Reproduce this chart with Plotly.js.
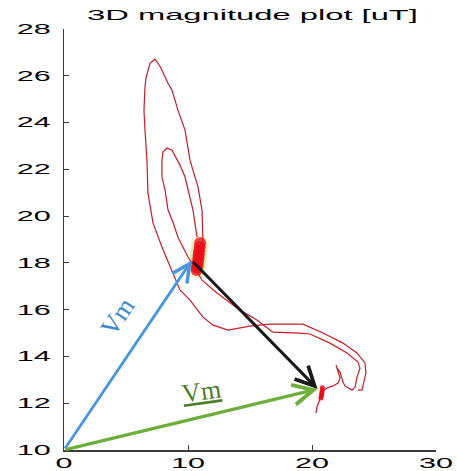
<!DOCTYPE html>
<html>
<head>
<meta charset="utf-8">
<script src="https://cdn.plot.ly/plotly-3.0.1.min.js"></script>
<style>
html,body{margin:0;padding:0;background:#fff;}
#plot{width:457px;height:471px;}
</style>
</head>
<body>
<div id="plot"></div>
<script>
// Outer loop + upper return path (uT)
var outerX = [11.21, 11.13, 10.81, 10.16, 9.76, 9.19, 8.71, 8.39, 7.74, 7.34, 6.94, 6.77, 6.61, 6.53, 6.45, 6.53, 6.69, 6.77, 7.18, 7.90, 8.71, 9.35, 10.16, 11.21, 12.02, 13.23, 15.00, 16.61, 19.27, 20.89, 22.50, 23.63, 24.27, 24.35, 24.03, 23.71];
var outerY = [18.85, 20.26, 21.24, 22.39, 23.68, 24.53, 25.38, 25.68, 26.41, 26.71, 26.54, 26.24, 25.90, 25.50, 24.53, 23.68, 22.39, 20.98, 19.70, 18.68, 17.69, 16.84, 16.41, 15.68, 15.34, 15.13, 15.30, 15.38, 15.38, 15.00, 14.57, 14.15, 13.72, 13.29, 12.56, 12.56];
// Inner loop + lower return path + noisy end
var innerX = [10.73, 10.40, 9.76, 9.35, 8.71, 8.31, 7.98, 7.90, 7.90, 8.15, 8.39, 8.79, 9.19, 10.00, 10.56, 11.13, 12.34, 14.19, 15.56, 16.85, 19.03, 19.84, 21.45, 22.82, 23.71, 23.87, 23.63, 23.47, 23.23, 22.90, 22.66, 22.50, 22.34, 22.26, 22.02, 21.94, 22.10, 22.26, 22.10, 21.69, 21.21, 20.89, 20.73, 20.56, 20.40, 20.32];
var innerY = [19.10, 20.26, 21.67, 22.18, 22.82, 22.91, 22.74, 22.39, 21.67, 21.11, 20.26, 19.74, 19.10, 18.25, 17.78, 17.26, 16.71, 15.98, 15.56, 15.04, 15.00, 14.96, 14.57, 14.15, 13.76, 13.50, 13.12, 12.69, 12.56, 12.65, 12.74, 12.91, 13.16, 13.33, 13.50, 13.63, 13.33, 13.08, 12.86, 12.74, 12.65, 12.52, 12.31, 12.09, 11.84, 11.58];
// Dense clusters of samples
var clusterAX = [10.98, 10.95, 10.90, 10.86, 10.84, 10.80, 10.76, 10.72, 10.70];
var clusterAY = [18.85, 18.68, 18.50, 18.35, 18.20, 18.05, 17.92, 17.80, 17.70];
var clusterBX = [20.84, 20.82, 20.80, 20.78, 20.75, 20.72];
var clusterBY = [12.66, 12.56, 12.46, 12.38, 12.30, 12.22];
// Vectors
var origin = [0, 10];
var vmStart = [10.3, 18.1];
var vmEnd = [20.45, 12.61];
var labelText = 'Vm';
var xTicks = [0, 10, 20, 30];
var yTicks = [10, 12, 14, 16, 18, 20, 22, 24, 26, 28];

var red = 'rgb(195,30,40)';
var data = [
  {x: clusterAX, y: clusterAY, mode: 'markers', type: 'scatter', hoverinfo: 'skip',
   marker: {size: 18, color: 'rgba(185,205,70,0.18)'}},
  {x: outerX, y: outerY, mode: 'lines', type: 'scatter', line: {color: red, width: 1.2}},
  {x: innerX, y: innerY, mode: 'lines', type: 'scatter', line: {color: red, width: 1.2}},
  {x: clusterAX, y: clusterAY, mode: 'markers', type: 'scatter',
   marker: {size: 12, color: 'rgba(235,10,25,0.75)'}},
  {x: clusterBX, y: clusterBY, mode: 'markers', type: 'scatter',
   marker: {size: 5, color: 'rgba(235,10,20,0.85)'}}
];

function arrow(from, to, color, w) {
  return {x: to[0], y: to[1], ax: from[0], ay: from[1], xref: 'x', yref: 'y',
    axref: 'x', ayref: 'y', text: '', showarrow: true, arrowhead: 5,
    arrowsize: 1.25, arrowwidth: w, arrowcolor: color, standoff: 0};
}

var layout = {
  width: 457, height: 471,
  margin: {l: 64, r: 21, t: 29, b: 21, pad: 0},
  paper_bgcolor: '#fff', plot_bgcolor: '#fff',
  showlegend: false,
  title: {text: '3D magnitude plot [uT]', x: 0.5525, xref: 'container', xanchor: 'center',
    y: 0.968, yref: 'container', yanchor: 'middle',
    font: {family: 'Liberation Sans, Arial, sans-serif', size: 15, color: '#000'}},
  xaxis: {range: [0, 30], tickvals: xTicks, ticktext: xTicks.map(String),
    showgrid: false, zeroline: false, showline: true, linecolor: '#3a3a3a', linewidth: 1.5,
    ticks: 'inside', ticklen: 5, tickcolor: '#3a3a3a', tickwidth: 1,
    tickfont: {family: 'Liberation Sans, Arial, sans-serif', size: 14, color: '#000'}},
  yaxis: {range: [10, 28], tickvals: yTicks, ticktext: yTicks.map(String),
    showgrid: false, zeroline: false, showline: true, linecolor: '#3a3a3a', linewidth: 1.5,
    ticks: 'inside', ticklen: 5, tickcolor: '#3a3a3a', tickwidth: 1,
    ticklabelstandoff: 9,
    tickfont: {family: 'Liberation Sans, Arial, sans-serif', size: 14, color: '#000'}},
  annotations: [
    arrow(origin, vmStart, 'rgb(75,150,220)', 2.8),
    arrow(vmStart, vmEnd, 'rgb(25,25,25)', 3),
    arrow(origin, vmEnd, 'rgb(110,175,60)', 3.2),
    {x: 4.35, y: 15.7, xref: 'x', yref: 'y', text: labelText, showarrow: false,
     textangle: -56, font: {family: 'Liberation Serif, Times New Roman, serif', size: 26, color: 'rgb(60,135,205)'}},
    {x: 11.05, y: 12.5, xref: 'x', yref: 'y', text: '<u>' + labelText + '</u>', showarrow: false,
     textangle: -8, font: {family: 'Liberation Serif, Times New Roman, serif', size: 26, color: 'rgb(75,125,40)'}}
  ]
};

Plotly.newPlot('plot', data, layout, {staticPlot: true, displayModeBar: false}).then(function (gd) {
  gd.querySelectorAll('.xtick text, .ytick text').forEach(function (t) {
    t.setAttribute('textLength', 17 * t.textContent.length);
    t.setAttribute('lengthAdjust', 'spacingAndGlyphs');
  });
  var tt = gd.querySelector('.gtitle');
  if (tt) {
    tt.setAttribute('textLength', 331);
    tt.setAttribute('lengthAdjust', 'spacingAndGlyphs');
  }
});
</script>
</body>
</html>
